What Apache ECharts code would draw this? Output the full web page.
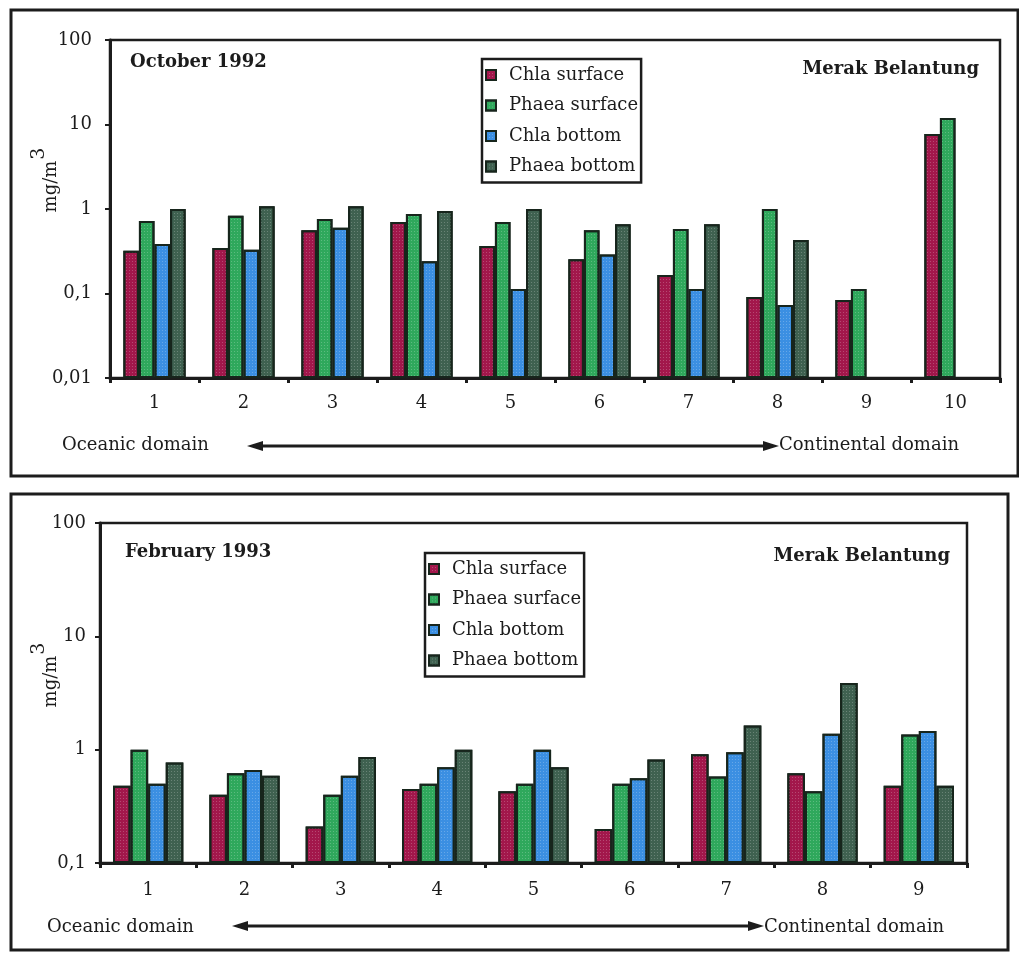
<!DOCTYPE html>
<html>
<head>
<meta charset="utf-8">
<script src="https://cdn.jsdelivr.net/npm/echarts@6/dist/echarts.min.js"></script>
<style>
html,body{margin:0;padding:0;background:#fff;}
#chart{width:1019px;height:954px;}
</style>
</head>
<body>
<div id="chart"></div>
<script>
// ---- data (mg/m3) ----
const seriesNames = ['Chla surface', 'Phaea surface', 'Chla bottom', 'Phaea bottom'];
const catsOct = ['1','2','3','4','5','6','7','8','9','10'];
const octChlaSurface  = [0.32, 0.345, 0.56, 0.70, 0.365, 0.255, 0.165, 0.091, 0.084, 7.7];
const octPhaeaSurface = [0.72, 0.83, 0.76, 0.87, 0.70, 0.56, 0.58, 1.0, 0.113, 11.9];
const octChlaBottom   = [0.385, 0.33, 0.60, 0.24, 0.113, 0.29, 0.113, 0.073, null, null];
const octPhaeaBottom  = [1.0, 1.08, 1.08, 0.95, 1.0, 0.66, 0.66, 0.43, null, null];

const catsFeb = ['1','2','3','4','5','6','7','8','9'];
const febChlaSurface  = [0.48, 0.40, 0.21, 0.45, 0.43, 0.20, 0.91, 0.62, 0.48];
const febPhaeaSurface = [1.0, 0.62, 0.40, 0.50, 0.50, 0.50, 0.58, 0.43, 1.36];
const febChlaBottom   = [0.50, 0.66, 0.59, 0.70, 1.0, 0.56, 0.95, 1.38, 1.46];
const febPhaeaBottom  = [0.77, 0.59, 0.86, 1.0, 0.70, 0.82, 1.63, 3.87, 0.48];

// log-scale tick labels (decades), from axis minimum upward
const yLabelsTop = ['0,01', '0,1', '1', '10', '100'];
const yLabelsBottom = ['0,1', '1', '10', '100'];
const topMinExp = -2;     // 0.01
const bottomMinExp = -1;  // 0.1

const colors = ['#a2174b', '#2fa85c', '#3b8fe2', '#3f6150'];
const FONT = 'DejaVu Serif';
const INK = '#1c1c1c';

// Logarithmic value axis: bars must grow from the axis floor, so the library's
// linear scale is fed decades above the floor (log10(v) - minExp).
function toDecades(arr, minExp) {
  return arr.map(function (v) { return v == null ? null : Math.log10(v) - minExp; });
}

const chart = echarts.init(document.getElementById('chart'));

function xAxis(gridIndex, data, margin) {
  return {
    type: 'category', gridIndex: gridIndex, data: data,
    axisLine: {show: true, lineStyle: {color: INK, width: 3}},
    axisTick: {show: true, alignWithLabel: false, length: 5, lineStyle: {color: INK, width: 3}},
    axisLabel: {fontFamily: FONT, fontSize: 18, color: INK, margin: margin},
    splitLine: {show: false}
  };
}
function yAxis(gridIndex, labels, margin) {
  return {
    type: 'value', gridIndex: gridIndex, min: 0, max: labels.length - 1, interval: 1,
    axisLine: {show: true, lineStyle: {color: INK, width: 3}},
    axisTick: {show: true, length: 5, lineStyle: {color: INK, width: 2}},
    axisLabel: {fontFamily: FONT, fontSize: 18, color: INK, margin: margin,
      formatter: function (v) { return labels[Math.round(v)]; }},
    splitLine: {show: false}
  };
}

function bars(name, data, idx, colorIdx, gap) {
  return {
    name: name, type: 'bar', xAxisIndex: idx, yAxisIndex: idx, data: data,
    barGap: '0%', barCategoryGap: gap,
    itemStyle: {
      color: colors[colorIdx], borderColor: '#17251c', borderWidth: 2,
      decal: {symbol: 'rect', symbolSize: 1, color: 'rgba(255,255,255,0.22)',
              dashArrayX: [1, 2], dashArrayY: [1, 2], rotation: 0}
    },
    emphasis: {disabled: true},
    animation: false
  };
}

function legend(left, top, gap) {
  return {
    orient: 'vertical', left: left, top: top, data: seriesNames,
    icon: 'rect', itemWidth: 10, itemHeight: 10, itemGap: gap,
    padding: [6, 3, 6, 3],
    borderColor: INK, borderWidth: 2.5,
    textStyle: {fontFamily: FONT, fontSize: 18, color: INK, lineHeight: 20, padding: [0, 0, 0, 8]},
    selectedMode: false
  };
}

function arrowGroup(y, x1, x2) {
  return [
    {type: 'line', shape: {x1: x1 + 10, y1: y, x2: x2 - 10, y2: y}, style: {stroke: INK, lineWidth: 3}},
    {type: 'polygon', shape: {points: [[x1, y], [x1 + 16, y - 5], [x1 + 16, y + 5]]}, style: {fill: INK}},
    {type: 'polygon', shape: {points: [[x2, y], [x2 - 16, y - 5], [x2 - 16, y + 5]]}, style: {fill: INK}}
  ];
}

function txt(x, y, text, opts) {
  return {type: 'text', x: x, y: y, style: Object.assign({
    text: text, font: '18px "' + FONT + '"', fill: INK, textVerticalAlign: 'middle', textAlign: 'left'
  }, opts || {})};
}

function unitLabel(x, y) {
  return {
    type: 'text', x: x, y: y, rotation: Math.PI / 2,
    style: {
      text: '{a|mg/m}{b|3}', textAlign: 'center', textVerticalAlign: 'middle',
      rich: {
        a: {fontFamily: FONT, fontSize: 18, fill: INK, verticalAlign: 'bottom'},
        b: {fontFamily: FONT, fontSize: 19, fill: INK, verticalAlign: 'bottom', padding: [0, 0, 12, 1]}
      }
    }
  };
}

const BOLD = 'bold 18px "' + FONT + '"';

const option = {
  backgroundColor: '#ffffff',
  animation: false,
  grid: [
    {left: 110, top: 40, width: 890, height: 338, show: true, borderColor: INK, borderWidth: 2.5, containLabel: false},
    {left: 100, top: 523, width: 867, height: 340, show: true, borderColor: INK, borderWidth: 2.5, containLabel: false}
  ],
  xAxis: [xAxis(0, catsOct, 16), xAxis(1, catsFeb, 18)],
  yAxis: [yAxis(0, yLabelsTop, 18), yAxis(1, yLabelsBottom, 14)],
  legend: [legend(482, 59, 10.5), legend(425, 553, 10.5)],
  series: [
    bars(seriesNames[0], toDecades(octChlaSurface, topMinExp), 0, 0, '30%'),
    bars(seriesNames[1], toDecades(octPhaeaSurface, topMinExp), 0, 1, '30%'),
    bars(seriesNames[2], toDecades(octChlaBottom, topMinExp), 0, 2, '30%'),
    bars(seriesNames[3], toDecades(octPhaeaBottom, topMinExp), 0, 3, '30%'),
    bars(seriesNames[0], toDecades(febChlaSurface, bottomMinExp), 1, 0, '27%'),
    bars(seriesNames[1], toDecades(febPhaeaSurface, bottomMinExp), 1, 1, '27%'),
    bars(seriesNames[2], toDecades(febChlaBottom, bottomMinExp), 1, 2, '27%'),
    bars(seriesNames[3], toDecades(febPhaeaBottom, bottomMinExp), 1, 3, '27%')
  ],
  graphic: [].concat(
    [
      {type: 'rect', shape: {x: 11, y: 10, width: 1007, height: 466}, style: {fill: 'none', stroke: INK, lineWidth: 3}},
      {type: 'rect', shape: {x: 11, y: 494, width: 997, height: 456}, style: {fill: 'none', stroke: INK, lineWidth: 3}},
      txt(130, 62, 'October 1992', {font: BOLD}),
      txt(979, 69, 'Merak Belantung', {font: BOLD, textAlign: 'right'}),
      txt(125, 552, 'February 1993', {font: BOLD}),
      txt(950, 556, 'Merak Belantung', {font: BOLD, textAlign: 'right'}),
      txt(62, 445, 'Oceanic domain'),
      txt(779, 445, 'Continental domain'),
      txt(47, 927, 'Oceanic domain'),
      txt(764, 927, 'Continental domain'),
      unitLabel(45, 180),
      unitLabel(45, 675)
    ],
    arrowGroup(446, 247, 779),
    arrowGroup(926, 232, 764)
  )
};
chart.setOption(option);
</script>
</body>
</html>
